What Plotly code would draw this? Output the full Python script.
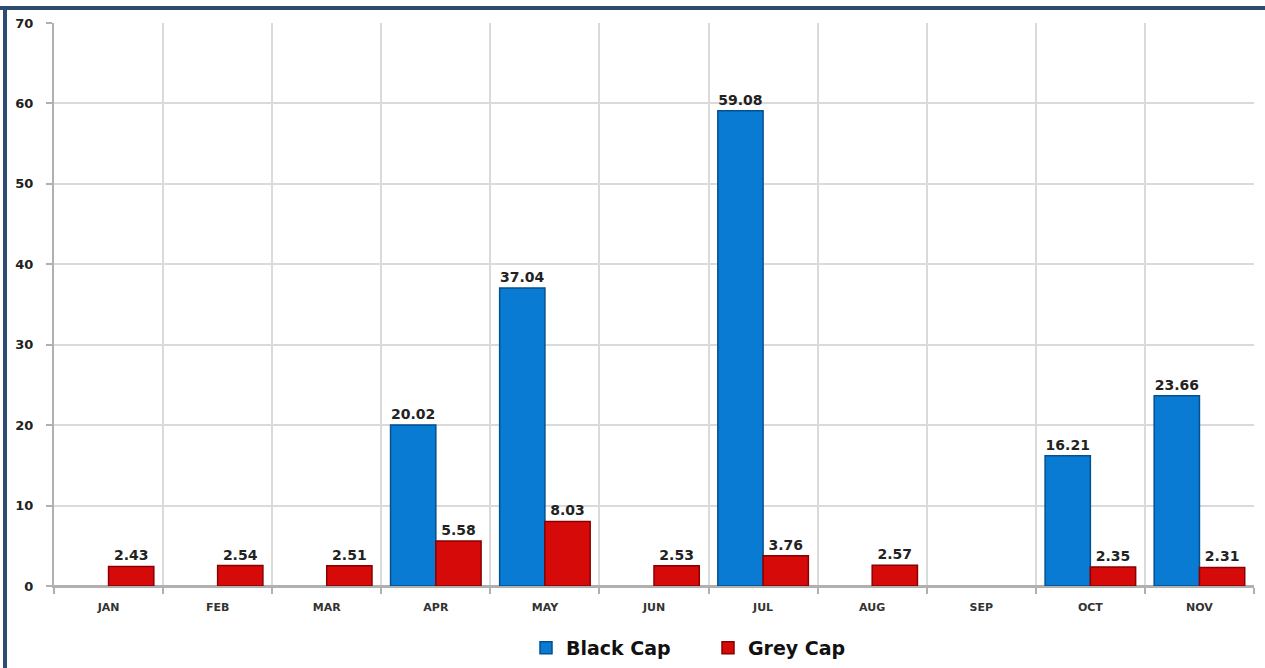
import plotly.graph_objects as go

months = ["JAN", "FEB", "MAR", "APR", "MAY", "JUN", "JUL", "AUG", "SEP", "OCT", "NOV"]
black_cap = [None, None, None, 20.02, 37.04, None, 59.08, None, None, 16.21, 23.66]
grey_cap = [2.43, 2.54, 2.51, 5.58, 8.03, 2.53, 3.76, 2.57, None, 2.35, 2.31]
y_ticks = [0, 10, 20, 30, 40, 50, 60, 70]

def labels(vals):
    return ["" if v is None else f"{v:.2f}" for v in vals]

label_font = dict(family="DejaVu Sans", size=14, color="#222222", weight="bold")

fig = go.Figure()
fig.add_trace(go.Bar(
    name="Black Cap", x=months, y=black_cap,
    marker=dict(color="#0a7bd3", line=dict(color="#05508f", width=1.5)),
    text=labels(black_cap), textposition="outside", cliponaxis=False,
    textfont=label_font,
))
fig.add_trace(go.Bar(
    name="Grey Cap", x=months, y=grey_cap,
    marker=dict(color="#d70a0a", line=dict(color="#8a0000", width=1.5)),
    text=labels(grey_cap), textposition="outside", cliponaxis=False,
    textfont=label_font,
))

W, H = 1265, 668
L, R, T, B = 54, 11, 23, 82
pw, ph = W - L - R, H - T - B

def px_x(x):
    return (x - L) / pw

def px_y(y):
    return (H - B - y) / ph

fig.update_layout(
    width=W, height=H,
    margin=dict(l=L, r=R, t=T, b=B, autoexpand=False),
    paper_bgcolor="white", plot_bgcolor="white",
    barmode="group", bargap=0.17, bargroupgap=0,
    font=dict(family="DejaVu Sans", color="#222222"),
    showlegend=True,
    legend=dict(orientation="h", x=px_x(526), xanchor="left",
                yref="container", y=1 - 648 / H, yanchor="middle",
                font=dict(family="DejaVu Sans", size=19, color="#111111", weight="bold"),
                itemwidth=30, traceorder="normal",
                entrywidth=137, entrywidthmode="pixels"),
    uniformtext=dict(mode=False),
    shapes=[
        dict(type="line", xref="paper", yref="paper", x0=px_x(0), x1=px_x(W),
             y0=px_y(8), y1=px_y(8), line=dict(color="#2d4c6f", width=4)),
        dict(type="line", xref="paper", yref="paper", x0=px_x(5), x1=px_x(5),
             y0=px_y(6), y1=px_y(H), line=dict(color="#2d4c6f", width=4)),
    ],
)
fig.update_xaxes(
    type="category", tickson="boundaries",
    showgrid=True, gridcolor="#dadada", gridwidth=2,
    ticks="outside", ticklen=6, tickcolor="#b0b0b0", tickwidth=2,
    showline=True, linecolor="#b0b0b0", linewidth=2,
    tickfont=dict(family="DejaVu Sans", size=11, color="#333333", weight="bold"),
    ticklabelstandoff=10,
)
fig.update_yaxes(
    range=[0, 70], tickvals=y_ticks,
    showgrid=True, gridcolor="#dadada", gridwidth=2,
    ticks="outside", ticklen=6, tickcolor="#b0b0b0", tickwidth=2,
    showline=True, linecolor="#b0b0b0", linewidth=2,
    zeroline=True, zerolinecolor="#b0b0b0", zerolinewidth=2,
    tickfont=dict(family="DejaVu Sans", size=13, color="#222222", weight="bold"),
    ticklabelstandoff=10,
)

fig.write_html("out.html")
